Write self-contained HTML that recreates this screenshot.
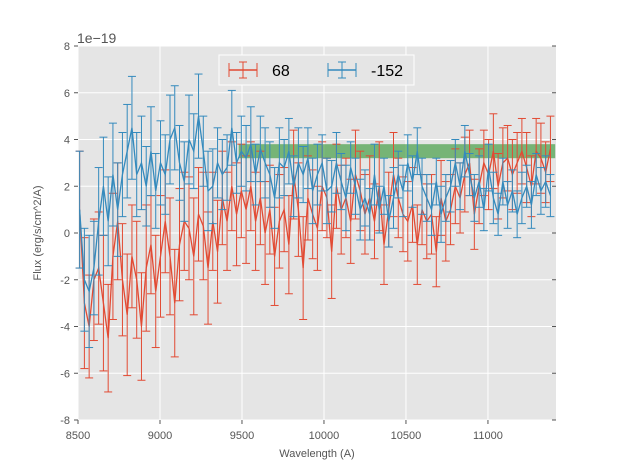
<!DOCTYPE html>
<html><head><meta charset="utf-8"><style>
body{margin:0;background:#fff;font-family:"Liberation Sans",sans-serif}
</style></head><body>
<svg id="chart" width="617" height="467" xmlns="http://www.w3.org/2000/svg" font-family="Liberation Sans, sans-serif">
<rect x="78" y="46" width="478" height="374" fill="#E5E5E5"/>
<g id="grid"></g><g id="band"></g><g id="series"></g><g id="axes"></g>
<text x="77" y="43" font-size="14" fill="#555">1e−19</text>
<text x="317" y="457" font-size="11" fill="#555" text-anchor="middle">Wavelength (A)</text>
<text transform="translate(41,233) rotate(-90)" font-size="11" fill="#555" text-anchor="middle">Flux (erg/s/cm^2/A)</text>
<g>
<rect x="219" y="55" width="195" height="30" fill="#E5E5E5" stroke="#fff" stroke-width="1"/>
<g>
<line x1="229" y1="70" x2="257" y2="70" stroke="#E24A33" stroke-width="1.5"/>
<line x1="229" y1="63" x2="229" y2="77" stroke="#E24A33"/><line x1="257" y1="63" x2="257" y2="77" stroke="#E24A33"/>
<line x1="243" y1="62" x2="243" y2="78" stroke="#E24A33"/>
<line x1="239" y1="62" x2="247" y2="62" stroke="#E24A33"/><line x1="239" y1="78" x2="247" y2="78" stroke="#E24A33"/>
<text x="272" y="76" font-size="16" fill="#000">68</text></g>
<g>
<line x1="328" y1="70" x2="356" y2="70" stroke="#348ABD" stroke-width="1.5"/>
<line x1="342" y1="62" x2="342" y2="78" stroke="#348ABD"/>
<line x1="338" y1="62" x2="346" y2="62" stroke="#348ABD"/><line x1="338" y1="78" x2="346" y2="78" stroke="#348ABD"/>
<line x1="328" y1="63" x2="328" y2="77" stroke="#348ABD"/><line x1="356" y1="63" x2="356" y2="77" stroke="#348ABD"/>
<text x="371" y="76" font-size="16" fill="#000">-152</text></g>
</g>
</svg>
<script>
const xTicks=[8500,9000,9500,10000,10500,11000];
const yTicks=[-8,-6,-4,-2,0,2,4,6,8];
const xStart=8510, xStep=29;
const red=[1.0,-3.0,-4.0,-2.0,-1.5,-3.0,-4.5,-1.0,0.5,-2.0,
-3.5,-1.0,-2.0,-4.0,-1.5,-0.5,-2.5,-1.0,0.5,-1.0,
-3.0,-0.5,0.5,0.2,-1.0,0.8,0.3,-1.5,0.5,-0.8,
1.5,0.5,2.0,0.8,1.8,1.0,2.0,0.5,1.5,0.0,
1.0,-1.0,0.5,1.0,-0.5,2.5,1.0,-1.5,1.5,0.8,
0.2,2.0,1.5,-0.8,2.0,1.0,1.5,0.5,2.5,1.8,
0.8,1.5,0.5,2.0,-0.5,1.0,2.5,1.5,0.8,0.5,
1.2,-0.5,1.0,0.5,0.8,-0.8,1.5,0.5,1.0,2.0,
1.5,2.5,3.0,0.8,2.0,3.0,2.5,3.5,2.0,3.0,
3.2,2.5,3.0,3.5,2.8,2.0,3.5,3.2,2.6,3.6];
const redErr=[2.5,2.8,2.2,2.6,2.4,2.9,2.3,2.7,2.5,2.4,
2.6,2.2,2.5,2.3,2.7,2.1,2.4,2.6,2.2,2.5,
2.3,2.4,2.1,2.2,2.5,2.0,2.3,2.4,2.1,2.2,
2.0,2.1,1.9,2.2,2.0,2.3,1.9,2.1,2.0,2.2,
1.9,2.1,2.0,1.8,2.1,1.9,2.0,2.2,1.8,1.9,
1.8,1.9,1.7,2.0,1.8,1.9,1.7,1.8,1.9,1.7,
1.7,1.8,1.6,1.9,1.7,1.6,1.8,1.7,1.6,1.7,
1.6,1.7,1.5,1.6,1.7,1.5,1.6,1.7,1.5,1.6,
1.5,1.6,1.4,1.5,1.6,1.4,1.5,1.6,1.4,1.5,
1.4,1.5,1.3,1.4,1.5,1.3,1.4,1.5,1.3,1.4];
const blue=[1.0,-2.0,-2.5,-1.5,0.5,2.0,0.5,2.5,1.0,2.5,
3.5,4.5,2.5,3.0,2.0,3.5,1.8,3.0,2.5,4.0,
4.5,3.0,2.2,4.0,3.5,5.0,3.5,1.8,2.0,3.0,
2.5,2.8,4.5,3.0,3.5,3.2,3.8,2.5,3.6,3.0,
2.5,1.5,3.0,2.8,3.5,2.0,3.0,2.5,3.2,1.8,
2.5,3.0,1.8,2.0,3.0,2.2,1.5,2.8,2.0,1.0,
1.5,0.8,2.5,1.0,2.0,0.5,1.5,2.5,1.8,3.0,
2.2,3.5,2.0,1.5,1.0,2.2,0.8,1.5,2.0,3.0,
2.0,3.5,2.5,1.5,2.2,1.0,2.8,1.5,0.8,2.2,
1.2,1.8,0.8,1.5,2.0,1.2,2.5,1.8,2.2,1.6];
const blueErr=[2.5,2.2,2.4,2.0,2.3,2.1,1.9,2.2,2.0,1.8,
2.0,2.2,1.8,2.0,1.7,1.9,1.6,1.8,1.7,1.9,
1.8,1.6,1.7,1.9,1.6,1.8,1.5,1.7,1.6,1.5,
1.5,1.4,1.6,1.3,1.5,1.4,1.6,1.3,1.4,1.5,
1.4,1.3,1.5,1.2,1.4,1.3,1.5,1.2,1.3,1.4,
1.3,1.2,1.4,1.1,1.3,1.2,1.4,1.1,1.2,1.3,
1.2,1.1,1.3,1.0,1.2,1.1,1.3,1.0,1.1,1.2,
1.1,1.0,1.2,1.0,1.1,1.0,1.2,1.0,1.1,1.0,
1.0,1.1,0.9,1.0,1.1,0.9,1.0,1.1,0.9,1.0,
1.0,0.9,1.0,1.1,0.9,1.0,0.9,1.0,1.1,0.9];
const band=[9480,11410,3.2,3.8];
const NS="http://www.w3.org/2000/svg";
const X=v=>78+(v-8500)*478/2915, Y=v=>233-v*374/16;
function mk(p,t,a){const e=document.createElementNS(NS,t);for(const k in a)e.setAttribute(k,a[k]);p.appendChild(e);return e;}
const g=document.getElementById('grid'),ax=document.getElementById('axes');
xTicks.forEach(t=>{
 const l=mk(g,'line',{x1:X(t),x2:X(t),y1:46,y2:420,stroke:'#fff','stroke-width':1});
 
 
 mk(ax,'line',{x1:X(t),x2:X(t),y1:420,y2:424,stroke:'#555'});
 const tx=mk(ax,'text',{x:X(t),y:439,'font-size':11,fill:'#555','text-anchor':'middle'});tx.textContent=t;
 
 
});
yTicks.forEach(t=>{
 const l=mk(g,'line',{x1:78,x2:556,y1:Y(t),y2:Y(t),stroke:'#fff','stroke-width':1});
 
 
 mk(ax,'line',{x1:74,x2:78,y1:Y(t),y2:Y(t),stroke:'#555'});
 mk(ax,'line',{x1:552,x2:556,y1:Y(t),y2:Y(t),stroke:'#555'});
 const tx=mk(ax,'text',{x:70,y:Y(t)+4,'font-size':11,fill:'#555','text-anchor':'end'});tx.textContent=t;
 
 
});
const b=mk(document.getElementById('band'),'rect',{x:X(band[0]),y:Y(band[3]),width:Math.min(556,X(band[1]))-X(band[0]),height:Y(band[2])-Y(band[3]),fill:'#3a9a3a','fill-opacity':0.65});


const s=document.getElementById('series');
function draw(vals,errs,col,name){
 const grp=mk(s,'g',{});
 
 
 vals.forEach((v,i)=>{const x=X(xStart+i*xStep);
  mk(grp,'line',{x1:x,x2:x,y1:Y(v-errs[i]),y2:Y(v+errs[i]),stroke:col,'stroke-width':1});
  mk(grp,'line',{x1:x-4,x2:x+4,y1:Y(v-errs[i]),y2:Y(v-errs[i]),stroke:col,'stroke-width':1});
  mk(grp,'line',{x1:x-4,x2:x+4,y1:Y(v+errs[i]),y2:Y(v+errs[i]),stroke:col,'stroke-width':1});
 });
 const p=mk(grp,'polyline',{points:vals.map((v,i)=>X(xStart+i*xStep)+','+Y(v)).join(' '),fill:'none',stroke:col,'stroke-width':1.3});
 
 
}
draw(red,redErr,'#E24A33','series-68');
draw(blue,blueErr,'#348ABD','series-152');
</script>
</body></html>
